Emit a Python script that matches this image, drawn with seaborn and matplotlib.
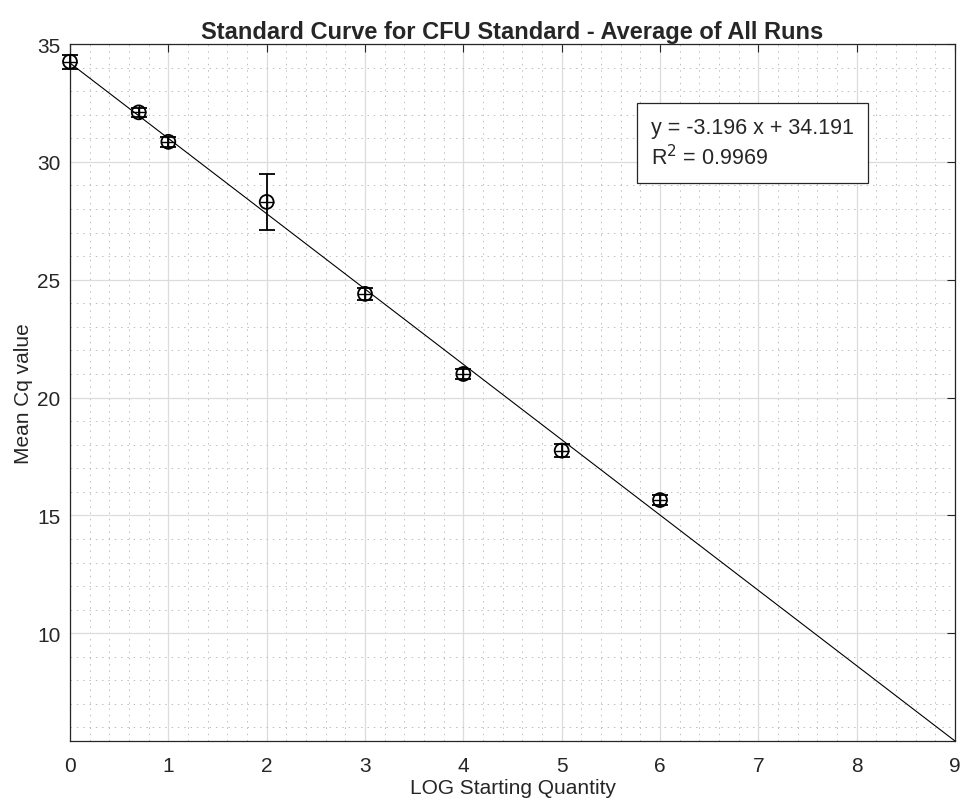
import numpy as np
import pandas as pd
import matplotlib
matplotlib.use("Agg")
import matplotlib.pyplot as plt
import seaborn as sns
from matplotlib.ticker import MultipleLocator

# data
log_qty = [0.0, 0.699, 1.0, 2.0, 3.0, 4.0, 5.0, 6.0]
mean_cq = [34.25, 32.10, 30.85, 28.30, 24.40, 21.00, 17.75, 15.65]
cq_err = [0.30, 0.20, 0.20, 1.20, 0.25, 0.20, 0.28, 0.20]
slope = -3.196
intercept = 34.191
r2 = 0.9969
fit_x = [0, 9]

sns.set_style("white")
plt.rcParams['font.family'] = ['Liberation Sans', 'DejaVu Sans']

fig = plt.figure(figsize=(9.6, 8.03), dpi=100)
ax = fig.add_axes([70/960, 1-742/803, (955-70)/960, (742-45)/803])

df = pd.DataFrame({"x": log_qty, "y": mean_cq})
fit_df = pd.DataFrame({"x": fit_x, "y": [slope * v + intercept for v in fit_x]})

sns.lineplot(data=fit_df, x="x", y="y", ax=ax, color="black", lw=0.8, zorder=3)
eb = ax.errorbar(log_qty, mean_cq, yerr=cq_err, fmt="none", ecolor="black",
                 elinewidth=1.3, capsize=6, capthick=1.3, zorder=4)
for art in eb.lines[1] + eb.lines[2]:
    art.set_clip_on(False)
sns.scatterplot(data=df, x="x", y="y", ax=ax, marker="o", s=100,
                facecolor="none", edgecolor="black", linewidth=1.3, zorder=5)
sns.scatterplot(data=df, x="x", y="y", ax=ax, marker="+", s=100,
                color="black", linewidth=1.0, zorder=5)
for coll in ax.collections:
    coll.set_clip_on(False)

ax.set_xlim(0, 9)
ax.set_ylim(intercept + slope * 9, 35)
ax.xaxis.set_major_locator(MultipleLocator(1))
ax.xaxis.set_minor_locator(MultipleLocator(0.2))
ax.yaxis.set_major_locator(MultipleLocator(5))
ax.yaxis.set_minor_locator(MultipleLocator(1))

ax.grid(which="major", color="#dcdcdc", lw=0.9, ls="-")
ax.grid(which="minor", color="#bdbdbd", lw=0.7, ls=(0, (1.5, 5)))
ax.set_axisbelow(True)

ax.tick_params(which="major", direction="in", length=6, width=0.8,
               top=True, right=True, labelsize=15, colors="#262626")
ax.tick_params(axis="x", which="major", pad=11)
ax.tick_params(axis="y", which="major", pad=7)
ax.tick_params(which="minor", length=0)
for s in ax.spines.values():
    s.set_color("#262626")
    s.set_linewidth(0.9)

ax.set_xlabel("LOG Starting Quantity", fontsize=15, color="#262626", labelpad=2)
ax.set_ylabel("Mean Cq value", fontsize=15, color="#262626", labelpad=3)
ax.set_title("Standard Curve for CFU Standard - Average of All Runs",
             fontsize=17, fontweight="bold", pad=4)

ax.text((651-70)/885, 1-(144-45)/697,
        f"y = {slope:.3f} x + {intercept:.3f}\nR$^2$ = {r2:.4f}",
        transform=ax.transAxes, fontsize=15.5, va="center", ha="left",
        linespacing=1.3,
        bbox=dict(boxstyle="square,pad=0.65", facecolor="white",
                  edgecolor="#262626", lw=0.9), zorder=6)

fig.savefig("out.png", dpi=100)
